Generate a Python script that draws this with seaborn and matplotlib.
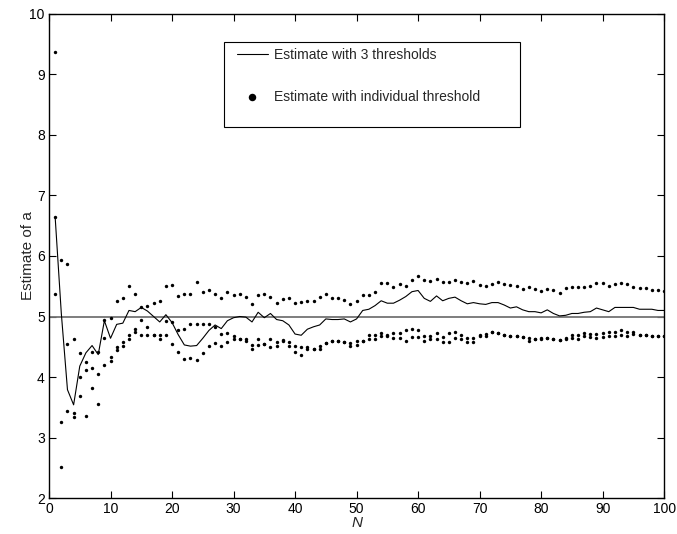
import numpy as np
import pandas as pd
import matplotlib
matplotlib.use("Agg")
import matplotlib.pyplot as plt
from matplotlib.patches import Rectangle
import seaborn as sns

# values, N = 1..100
n_values = list(range(1, 101))

est_3_thresholds = [
    6.64, 5.05, 3.79, 3.54, 4.18, 4.40, 4.52, 4.37, 4.93, 4.64,
    4.87, 4.89, 5.10, 5.08, 5.15, 5.09, 5.00, 4.91, 5.03, 4.90,
    4.70, 4.53, 4.51, 4.52, 4.64, 4.77, 4.86, 4.80, 4.93, 4.98,
    5.00, 4.99, 4.91, 5.07, 4.98, 5.05, 4.95, 4.93, 4.86, 4.71,
    4.69, 4.79, 4.83, 4.86, 4.96, 4.95, 4.95, 4.96, 4.91, 4.96,
    5.10, 5.12, 5.18, 5.26, 5.22, 5.22, 5.27, 5.33, 5.41, 5.43,
    5.30, 5.25, 5.34, 5.26, 5.30, 5.32, 5.26, 5.21, 5.23, 5.21,
    5.20, 5.23, 5.23, 5.19, 5.14, 5.16, 5.11, 5.08, 5.08, 5.06,
    5.11, 5.05, 5.01, 5.02, 5.05, 5.05, 5.07, 5.08, 5.14, 5.11,
    5.08, 5.15, 5.15, 5.15, 5.15, 5.12, 5.12, 5.12, 5.10, 5.10,
]

indiv_high = [
    9.38, 5.93, 5.87, 4.62, 4.39, 4.24, 4.41, 4.41, 4.94, 4.98,
    5.26, 5.31, 5.51, 5.38, 5.15, 5.18, 5.23, 5.26, 5.50, 5.52,
    5.34, 5.37, 5.38, 5.57, 5.41, 5.43, 5.37, 5.31, 5.41, 5.36,
    5.37, 5.32, 5.21, 5.36, 5.37, 5.32, 5.23, 5.29, 5.31, 5.22,
    5.24, 5.25, 5.26, 5.32, 5.38, 5.30, 5.31, 5.27, 5.21, 5.26,
    5.35, 5.36, 5.41, 5.56, 5.56, 5.49, 5.53, 5.51, 5.60, 5.67,
    5.61, 5.58, 5.62, 5.57, 5.57, 5.60, 5.57, 5.55, 5.58, 5.52,
    5.50, 5.53, 5.57, 5.54, 5.52, 5.50, 5.45, 5.48, 5.46, 5.42,
    5.45, 5.43, 5.39, 5.47, 5.49, 5.49, 5.49, 5.50, 5.55, 5.55,
    5.51, 5.54, 5.55, 5.54, 5.49, 5.47, 5.47, 5.43, 5.43, 5.42,
]

indiv_mid = [
    6.64, 3.26, 4.55, 3.40, 4.00, 4.11, 4.15, 4.05, 4.64, 4.33,
    4.50, 4.58, 4.70, 4.80, 4.94, 4.82, 4.70, 4.70, 4.92, 4.91,
    4.78, 4.79, 4.88, 4.88, 4.88, 4.88, 4.82, 4.71, 4.72, 4.68,
    4.63, 4.62, 4.53, 4.63, 4.54, 4.63, 4.58, 4.61, 4.58, 4.52,
    4.49, 4.50, 4.46, 4.51, 4.57, 4.60, 4.60, 4.58, 4.56, 4.59,
    4.60, 4.70, 4.70, 4.73, 4.70, 4.72, 4.72, 4.78, 4.80, 4.78,
    4.67, 4.67, 4.72, 4.66, 4.72, 4.74, 4.69, 4.64, 4.65, 4.70,
    4.71, 4.74, 4.73, 4.69, 4.68, 4.68, 4.66, 4.64, 4.63, 4.64,
    4.65, 4.63, 4.61, 4.65, 4.70, 4.69, 4.72, 4.71, 4.71, 4.73,
    4.74, 4.75, 4.77, 4.74, 4.74, 4.70, 4.69, 4.68, 4.67, 4.68,
]

indiv_low = [
    5.37, 2.52, 3.44, 3.34, 3.69, 3.35, 3.81, 3.56, 4.20, 4.27,
    4.44, 4.51, 4.63, 4.74, 4.70, 4.70, 4.70, 4.63, 4.70, 4.55,
    4.41, 4.30, 4.31, 4.28, 4.40, 4.51, 4.57, 4.52, 4.58, 4.63,
    4.63, 4.59, 4.47, 4.53, 4.54, 4.50, 4.51, 4.59, 4.52, 4.41,
    4.37, 4.46, 4.46, 4.46, 4.57, 4.60, 4.60, 4.58, 4.51, 4.53,
    4.60, 4.63, 4.63, 4.68, 4.67, 4.65, 4.64, 4.59, 4.66, 4.66,
    4.59, 4.63, 4.62, 4.58, 4.58, 4.64, 4.63, 4.58, 4.58, 4.67,
    4.68, 4.74, 4.73, 4.69, 4.68, 4.68, 4.66, 4.60, 4.63, 4.63,
    4.65, 4.63, 4.61, 4.62, 4.64, 4.62, 4.67, 4.66, 4.65, 4.66,
    4.68, 4.67, 4.69, 4.68, 4.71, 4.70, 4.69, 4.68, 4.67, 4.68,
]

true_a = 5

sns.set_style("ticks")
plt.rcParams["font.family"] = ["Liberation Sans", "DejaVu Sans"]

line_df = pd.DataFrame({"N": n_values, "est": est_3_thresholds})
dots_df = pd.DataFrame({
    "N": n_values * 3,
    "est": indiv_high + indiv_mid + indiv_low,
})

fig = plt.figure(figsize=(6.77, 5.34), dpi=100)
ax = fig.add_axes([0.0724, 0.0674, 0.9086, 0.9064])

ax.axhline(true_a, color="0.45", lw=1.3, zorder=1)
sns.lineplot(data=line_df, x="N", y="est", color="black", lw=0.8,
             label="Estimate with 3 thresholds", ax=ax, zorder=3)
sns.scatterplot(data=dots_df, x="N", y="est", color="black", s=6,
                linewidth=0, label="Estimate with individual threshold",
                ax=ax, zorder=4)

ax.set_xlim(0, 100)
ax.set_ylim(2, 10)
ax.set_xticks(np.arange(0, 101, 10))
ax.set_yticks(np.arange(2, 11, 1))
ax.tick_params(direction="in", top=True, right=True, length=5,
               width=0.8, labelsize=10, colors="black", pad=3)
for s in ax.spines.values():
    s.set_linewidth(1.0)
    s.set_color("black")

ax.set_xlabel("N", fontsize=11, style="italic", labelpad=0)
ax.set_ylabel("Estimate of a", fontsize=11, labelpad=-4)

# legend text without its own frame, box drawn separately
leg = ax.legend(loc="upper left", bbox_to_anchor=(0.3057, 0.929),
                frameon=False, fontsize=10, borderpad=0.0, labelspacing=2.0,
                handlelength=2.2, handletextpad=0.45, borderaxespad=0.0,
                markerscale=2.2)
ax.add_patch(Rectangle((0.284, 0.7665), 0.4815, 0.1755, transform=ax.transAxes,
                       fill=True, facecolor="white", edgecolor="black",
                       lw=0.8, zorder=5))
leg.set_zorder(6)

fig.savefig("out.png", dpi=100)
